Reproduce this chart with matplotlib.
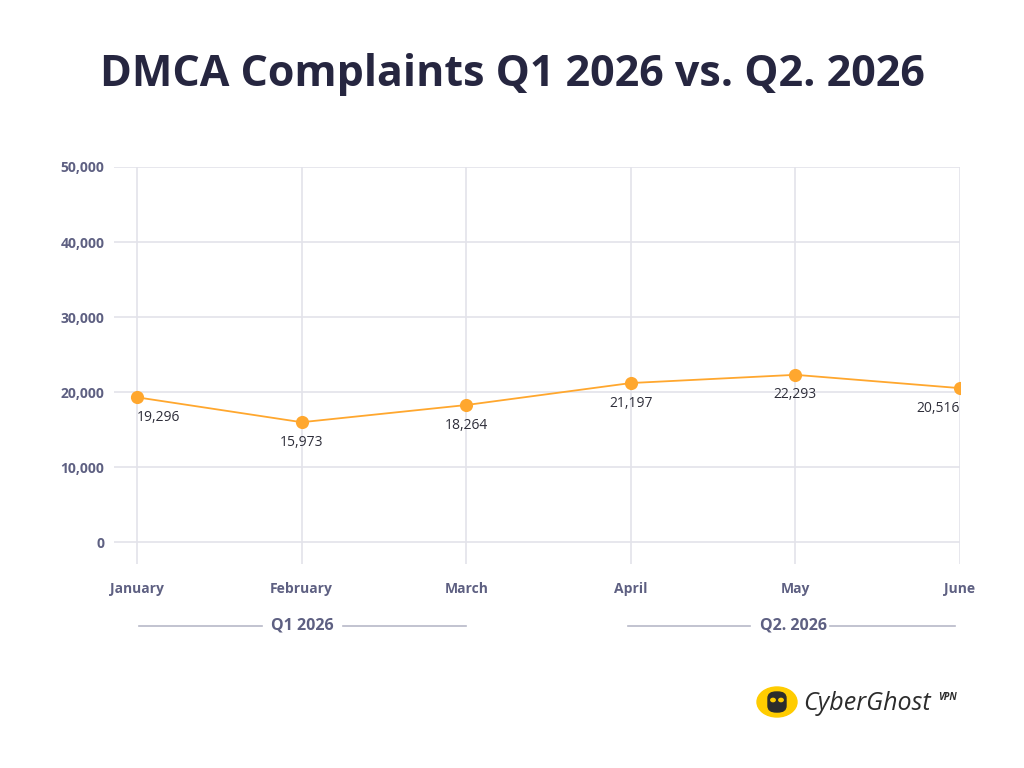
import matplotlib
matplotlib.use("Agg")
from matplotlib import pyplot as plt
from matplotlib.patches import Circle, FancyBboxPatch

months = ["January", "February", "March", "April", "May", "June"]
complaints = [19296, 15973, 18264, 21197, 22293, 20516]
y_ticks = [0, 10000, 20000, 30000, 40000, 50000]
quarters = ["Q1 2026", "Q2. 2026"]
title = "DMCA Complaints Q1 2026 vs. Q2. 2026"

plt.rcParams['font.family'] = ['Open Sans', 'DejaVu Sans']

ORANGE = "#FFA72E"
NAVY = "#262640"
AXIS_TXT = "#5E6082"
GRID = "#E3E3EA"

W, H = 1024, 768
fig = plt.figure(figsize=(W / 100, H / 100), dpi=100)
fig.patch.set_facecolor("white")


def fx(px):
    return px / W


def fy(py):
    return 1 - py / H


# axes: left 114 .. right 960 px, top 167 .. bottom 564 px
ax = fig.add_axes([fx(114), fy(564), fx(960) - fx(114), fy(167) - fy(564)])
x = list(range(len(months)))
ax.set_xlim(-0.14, 5)
ax.set_ylim(-2930, 50000)

for yt in y_ticks:
    ax.axhline(yt, color=GRID, lw=1.2, zorder=0)
for xi in x:
    ax.axvline(xi, color=GRID, lw=1.2, zorder=0)

ax.plot(x, complaints, color=ORANGE, lw=1.3, zorder=2)
ax.scatter(x, complaints, s=90, color=ORANGE, zorder=3, linewidths=0)

aligns = ["left", "center", "center", "center", "center", "right"]
for xi, v, ha in zip(x, complaints, aligns):
    ax.annotate(f"{v:,}", (xi, v), xytext=(0, -9), textcoords="offset points",
                ha=ha, va="top", fontsize=10, color="#2E2E3A")

ax.set_yticks(y_ticks)
ax.set_yticklabels([f"{t:,}" for t in y_ticks], fontsize=10, fontweight="bold",
                   color=AXIS_TXT)
ax.tick_params(axis="y", length=0, pad=7)
ax.set_xticks(x)
ax.set_xticklabels(months, fontsize=10, fontweight="bold", color=AXIS_TXT)
ax.tick_params(axis="x", length=0, pad=13)
for s in ax.spines.values():
    s.set_visible(False)

# quarter brackets
q_spans = [(139, 262, 343, 466, 302), (628, 750, 830, 955, 793)]
for q, (a1, a2, b1, b2, cx) in zip(quarters, q_spans):
    fig.add_artist(plt.Line2D([fx(a1), fx(a2)], [fy(626), fy(626)], color="#B8B9C8", lw=1.2))
    fig.add_artist(plt.Line2D([fx(b1), fx(b2)], [fy(626), fy(626)], color="#B8B9C8", lw=1.2))
    fig.text(fx(cx), fy(626), q, ha="center", va="center", fontsize=11.5,
             fontweight="bold", color=AXIS_TXT)

fig.text(fx(512), fy(74), title, ha="center", va="center", fontsize=31,
         fontweight="bold", color=NAVY)

# logo
lx, ly, r = 777, 702, 20
fig.add_artist(Circle((fx(lx), fy(ly)), r / W, transform=fig.transFigure,
                      color="#FFCC00", zorder=5))
ghost = FancyBboxPatch((fx(lx - 9), fy(ly + 10)), 18 / W, 20 / H,
                       boxstyle="round,pad=0,rounding_size=0.008",
                       transform=fig.transFigure, color="#2C2C2C", zorder=6)
fig.add_artist(ghost)
for ex in (-4, 4):
    fig.add_artist(Circle((fx(lx + ex), fy(ly - 2)), 2.2 / W, transform=fig.transFigure,
                          color="#FFCC00", zorder=7))
fig.text(fx(803), fy(703), "CyberGhost", ha="left", va="center", fontsize=18,
         style="italic", color="#2C2C2C")
fig.text(fx(938), fy(697), "VPN", ha="left", va="center", fontsize=7,
         style="italic", fontweight="bold", color="#2C2C2C")

plt.savefig("out.png", dpi=100, facecolor="white")
